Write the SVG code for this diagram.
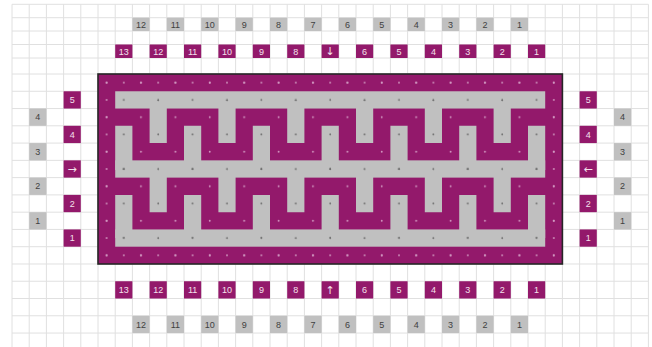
<svg xmlns="http://www.w3.org/2000/svg" xmlns:xlink="http://www.w3.org/1999/xlink" width="652" height="347" viewBox="0 0 652 347">
<style>
.grid{fill:none;stroke:#e0e0e0;stroke-width:1}
.gb{fill:#c0c0c0}
.pb{fill:#93196b}
text{font-family:"Liberation Sans","DejaVu Sans",sans-serif;font-size:9px;text-anchor:middle}
text.ar{font-family:"DejaVu Sans",sans-serif;font-size:11px}
.gt{fill:#3f3f3f}
.pt{fill:#f3e1ec}
</style>
<defs>
<pattern id="chkL" patternUnits="userSpaceOnUse" x="98" y="74" width="34.4" height="34.54"><circle cx="8.6" cy="8.635" r="0.9" fill="#d39cc3"/><circle cx="25.8" cy="25.905" r="0.9" fill="#d39cc3"/></pattern>
<pattern id="chkD" patternUnits="userSpaceOnUse" x="98" y="74" width="34.4" height="34.54"><circle cx="8.6" cy="8.635" r="0.9" fill="#6a6a6a"/><circle cx="25.8" cy="25.905" r="0.9" fill="#6a6a6a"/></pattern>
<pattern id="allL" patternUnits="userSpaceOnUse" x="98" y="74" width="17.2" height="17.27"><circle cx="8.6" cy="8.635" r="0.9" fill="#d39cc3"/></pattern>
<g id="mz">
<rect x="115.2" y="91.27" width="430" height="17.27"/>
<rect x="115.2" y="160.35" width="430" height="17.27"/>
<rect x="115.2" y="229.43" width="430" height="17.27"/>
<path d="M149.6 100h17.2v43.08h-17.2z M218.4 100h17.2v43.08h-17.2z M287.2 100h17.2v43.08h-17.2z M356 100h17.2v43.08h-17.2z M424.8 100h17.2v43.08h-17.2z M493.6 100h17.2v43.08h-17.2z"/>
<path d="M115.2 125.81h17.2v44.19h-17.2z M184 125.81h17.2v44.19h-17.2z M252.8 125.81h17.2v44.19h-17.2z M321.6 125.81h17.2v44.19h-17.2z M390.4 125.81h17.2v44.19h-17.2z M459.2 125.81h17.2v44.19h-17.2z M528 125.81h17.2v44.19h-17.2z"/>
<path d="M149.6 170h17.2v42.16h-17.2z M218.4 170h17.2v42.16h-17.2z M287.2 170h17.2v42.16h-17.2z M356 170h17.2v42.16h-17.2z M424.8 170h17.2v42.16h-17.2z M493.6 170h17.2v42.16h-17.2z"/>
<path d="M115.2 194.89h17.2v43.11h-17.2z M184 194.89h17.2v43.11h-17.2z M252.8 194.89h17.2v43.11h-17.2z M321.6 194.89h17.2v43.11h-17.2z M390.4 194.89h17.2v43.11h-17.2z M459.2 194.89h17.2v43.11h-17.2z M528 194.89h17.2v43.11h-17.2z"/>
</g>
</defs>
<rect width="652" height="347" fill="#ffffff"/>
<g id="gridlines">
<path class="grid" d="M12 4.3V347M29.2 4.3V347M46.4 4.3V347M63.6 4.3V347M80.8 4.3V347M98 4.3V347M115.2 4.3V347M132.4 4.3V347M149.6 4.3V347M166.8 4.3V347M184 4.3V347M201.2 4.3V347M218.4 4.3V347M235.6 4.3V347M252.8 4.3V347M270 4.3V347M287.2 4.3V347M304.4 4.3V347M321.6 4.3V347M338.8 4.3V347M356 4.3V347M373.2 4.3V347M390.4 4.3V347M407.6 4.3V347M424.8 4.3V347M442 4.3V347M459.2 4.3V347M476.4 4.3V347M493.6 4.3V347M510.8 4.3V347M528 4.3V347M545.2 4.3V347M562.4 4.3V347M579.6 4.3V347M596.8 4.3V347M614 4.3V347M631.2 4.3V347M648.4 4.3V347"/>
<path class="grid" d="M12 4.3H648.4M12 17.7H648.4M12 31H648.4M12 44.5H648.4M12 58H648.4M12 74H648.4M12 91.27H648.4M12 108.54H648.4M12 125.81H648.4M12 143.08H648.4M12 160.35H648.4M12 177.62H648.4M12 194.89H648.4M12 212.16H648.4M12 229.43H648.4M12 246.7H648.4M12 263.97H648.4M12 281.24H648.4M12 298.51H648.4M12 315.78H648.4M12 333.05H648.4"/>
</g>
<g id="maze">
<rect x="98" y="74" width="464.4" height="190" fill="#93196b"/>
<rect x="98" y="74" width="464.4" height="190" fill="url(#chkL)"/>
<path d="M98 74H562.4V264H98z M115.2 91.27V246.73H545.2V91.27z" fill="url(#allL)" fill-rule="evenodd"/>
<use xlink:href="#mz" href="#mz" fill="#c0c0c0"/>
<use xlink:href="#mz" href="#mz" fill="url(#chkD)"/>
<rect x="98" y="74" width="464.4" height="190" fill="none" stroke="#262626" stroke-width="1.6"/>
</g>
<g id="top-gray">
<g id="tg12" transform="translate(132.4 17.7)"><rect class="gb" width="17.2" height="13.3"/><text class="gt" x="8.6" y="9.9">12</text></g>
<g id="tg11" transform="translate(166.8 17.7)"><rect class="gb" width="17.2" height="13.3"/><text class="gt" x="8.6" y="9.9">11</text></g>
<g id="tg10" transform="translate(201.2 17.7)"><rect class="gb" width="17.2" height="13.3"/><text class="gt" x="8.6" y="9.9">10</text></g>
<g id="tg9" transform="translate(235.6 17.7)"><rect class="gb" width="17.2" height="13.3"/><text class="gt" x="8.6" y="9.9">9</text></g>
<g id="tg8" transform="translate(270 17.7)"><rect class="gb" width="17.2" height="13.3"/><text class="gt" x="8.6" y="9.9">8</text></g>
<g id="tg7" transform="translate(304.4 17.7)"><rect class="gb" width="17.2" height="13.3"/><text class="gt" x="8.6" y="9.9">7</text></g>
<g id="tg6" transform="translate(338.8 17.7)"><rect class="gb" width="17.2" height="13.3"/><text class="gt" x="8.6" y="9.9">6</text></g>
<g id="tg5" transform="translate(373.2 17.7)"><rect class="gb" width="17.2" height="13.3"/><text class="gt" x="8.6" y="9.9">5</text></g>
<g id="tg4" transform="translate(407.6 17.7)"><rect class="gb" width="17.2" height="13.3"/><text class="gt" x="8.6" y="9.9">4</text></g>
<g id="tg3" transform="translate(442 17.7)"><rect class="gb" width="17.2" height="13.3"/><text class="gt" x="8.6" y="9.9">3</text></g>
<g id="tg2" transform="translate(476.4 17.7)"><rect class="gb" width="17.2" height="13.3"/><text class="gt" x="8.6" y="9.9">2</text></g>
<g id="tg1" transform="translate(510.8 17.7)"><rect class="gb" width="17.2" height="13.3"/><text class="gt" x="8.6" y="9.9">1</text></g>
</g>
<g id="top-purple">
<g id="tp13" transform="translate(115.2 44.5)"><rect class="pb" width="17.2" height="13.5"/><text class="pt" x="8.6" y="10">13</text></g>
<g id="tp12" transform="translate(149.6 44.5)"><rect class="pb" width="17.2" height="13.5"/><text class="pt" x="8.6" y="10">12</text></g>
<g id="tp11" transform="translate(184 44.5)"><rect class="pb" width="17.2" height="13.5"/><text class="pt" x="8.6" y="10">11</text></g>
<g id="tp10" transform="translate(218.4 44.5)"><rect class="pb" width="17.2" height="13.5"/><text class="pt" x="8.6" y="10">10</text></g>
<g id="tp9" transform="translate(252.8 44.5)"><rect class="pb" width="17.2" height="13.5"/><text class="pt" x="8.6" y="10">9</text></g>
<g id="tp8" transform="translate(287.2 44.5)"><rect class="pb" width="17.2" height="13.5"/><text class="pt" x="8.6" y="10">8</text></g>
<g id="tp-arrow" transform="translate(321.6 44.5)"><rect class="pb" width="17.2" height="13.5"/><text class="pt ar" x="8.6" y="10.8">↓</text></g>
<g id="tp6" transform="translate(356 44.5)"><rect class="pb" width="17.2" height="13.5"/><text class="pt" x="8.6" y="10">6</text></g>
<g id="tp5" transform="translate(390.4 44.5)"><rect class="pb" width="17.2" height="13.5"/><text class="pt" x="8.6" y="10">5</text></g>
<g id="tp4" transform="translate(424.8 44.5)"><rect class="pb" width="17.2" height="13.5"/><text class="pt" x="8.6" y="10">4</text></g>
<g id="tp3" transform="translate(459.2 44.5)"><rect class="pb" width="17.2" height="13.5"/><text class="pt" x="8.6" y="10">3</text></g>
<g id="tp2" transform="translate(493.6 44.5)"><rect class="pb" width="17.2" height="13.5"/><text class="pt" x="8.6" y="10">2</text></g>
<g id="tp1" transform="translate(528 44.5)"><rect class="pb" width="17.2" height="13.5"/><text class="pt" x="8.6" y="10">1</text></g>
</g>
<g id="bottom-purple">
<g id="bp13" transform="translate(115.2 281.24)"><rect class="pb" width="17.2" height="17.27"/><text class="pt" x="8.6" y="11.8">13</text></g>
<g id="bp12" transform="translate(149.6 281.24)"><rect class="pb" width="17.2" height="17.27"/><text class="pt" x="8.6" y="11.8">12</text></g>
<g id="bp11" transform="translate(184 281.24)"><rect class="pb" width="17.2" height="17.27"/><text class="pt" x="8.6" y="11.8">11</text></g>
<g id="bp10" transform="translate(218.4 281.24)"><rect class="pb" width="17.2" height="17.27"/><text class="pt" x="8.6" y="11.8">10</text></g>
<g id="bp9" transform="translate(252.8 281.24)"><rect class="pb" width="17.2" height="17.27"/><text class="pt" x="8.6" y="11.8">9</text></g>
<g id="bp8" transform="translate(287.2 281.24)"><rect class="pb" width="17.2" height="17.27"/><text class="pt" x="8.6" y="11.8">8</text></g>
<g id="bp-arrow" transform="translate(321.6 281.24)"><rect class="pb" width="17.2" height="17.27"/><text class="pt ar" x="8.6" y="12.6">↑</text></g>
<g id="bp6" transform="translate(356 281.24)"><rect class="pb" width="17.2" height="17.27"/><text class="pt" x="8.6" y="11.8">6</text></g>
<g id="bp5" transform="translate(390.4 281.24)"><rect class="pb" width="17.2" height="17.27"/><text class="pt" x="8.6" y="11.8">5</text></g>
<g id="bp4" transform="translate(424.8 281.24)"><rect class="pb" width="17.2" height="17.27"/><text class="pt" x="8.6" y="11.8">4</text></g>
<g id="bp3" transform="translate(459.2 281.24)"><rect class="pb" width="17.2" height="17.27"/><text class="pt" x="8.6" y="11.8">3</text></g>
<g id="bp2" transform="translate(493.6 281.24)"><rect class="pb" width="17.2" height="17.27"/><text class="pt" x="8.6" y="11.8">2</text></g>
<g id="bp1" transform="translate(528 281.24)"><rect class="pb" width="17.2" height="17.27"/><text class="pt" x="8.6" y="11.8">1</text></g>
</g>
<g id="bottom-gray">
<g id="bg12" transform="translate(132.4 315.78)"><rect class="gb" width="17.2" height="17.27"/><text class="gt" x="8.6" y="11.8">12</text></g>
<g id="bg11" transform="translate(166.8 315.78)"><rect class="gb" width="17.2" height="17.27"/><text class="gt" x="8.6" y="11.8">11</text></g>
<g id="bg10" transform="translate(201.2 315.78)"><rect class="gb" width="17.2" height="17.27"/><text class="gt" x="8.6" y="11.8">10</text></g>
<g id="bg9" transform="translate(235.6 315.78)"><rect class="gb" width="17.2" height="17.27"/><text class="gt" x="8.6" y="11.8">9</text></g>
<g id="bg8" transform="translate(270 315.78)"><rect class="gb" width="17.2" height="17.27"/><text class="gt" x="8.6" y="11.8">8</text></g>
<g id="bg7" transform="translate(304.4 315.78)"><rect class="gb" width="17.2" height="17.27"/><text class="gt" x="8.6" y="11.8">7</text></g>
<g id="bg6" transform="translate(338.8 315.78)"><rect class="gb" width="17.2" height="17.27"/><text class="gt" x="8.6" y="11.8">6</text></g>
<g id="bg5" transform="translate(373.2 315.78)"><rect class="gb" width="17.2" height="17.27"/><text class="gt" x="8.6" y="11.8">5</text></g>
<g id="bg4" transform="translate(407.6 315.78)"><rect class="gb" width="17.2" height="17.27"/><text class="gt" x="8.6" y="11.8">4</text></g>
<g id="bg3" transform="translate(442 315.78)"><rect class="gb" width="17.2" height="17.27"/><text class="gt" x="8.6" y="11.8">3</text></g>
<g id="bg2" transform="translate(476.4 315.78)"><rect class="gb" width="17.2" height="17.27"/><text class="gt" x="8.6" y="11.8">2</text></g>
<g id="bg1" transform="translate(510.8 315.78)"><rect class="gb" width="17.2" height="17.27"/><text class="gt" x="8.6" y="11.8">1</text></g>
</g>
<g id="left-labels">
<g id="lp5" transform="translate(63.6 91.27)"><rect class="pb" width="17.2" height="17.27"/><text class="pt" x="8.6" y="11.8">5</text></g>
<g id="lg4" transform="translate(29.2 108.54)"><rect class="gb" width="17.2" height="17.27"/><text class="gt" x="8.6" y="11.8">4</text></g>
<g id="lp4" transform="translate(63.6 125.81)"><rect class="pb" width="17.2" height="17.27"/><text class="pt" x="8.6" y="11.8">4</text></g>
<g id="lg3" transform="translate(29.2 143.08)"><rect class="gb" width="17.2" height="17.27"/><text class="gt" x="8.6" y="11.8">3</text></g>
<g id="lp-arrow" transform="translate(63.6 160.35)"><rect class="pb" width="17.2" height="17.27"/><text class="pt ar" x="8.6" y="12.4">→</text></g>
<g id="lg2" transform="translate(29.2 177.62)"><rect class="gb" width="17.2" height="17.27"/><text class="gt" x="8.6" y="11.8">2</text></g>
<g id="lp2" transform="translate(63.6 194.89)"><rect class="pb" width="17.2" height="17.27"/><text class="pt" x="8.6" y="11.8">2</text></g>
<g id="lg1" transform="translate(29.2 212.16)"><rect class="gb" width="17.2" height="17.27"/><text class="gt" x="8.6" y="11.8">1</text></g>
<g id="lp1" transform="translate(63.6 229.43)"><rect class="pb" width="17.2" height="17.27"/><text class="pt" x="8.6" y="11.8">1</text></g>
</g>
<g id="right-labels">
<g id="rp5" transform="translate(579.6 91.27)"><rect class="pb" width="17.2" height="17.27"/><text class="pt" x="8.6" y="11.8">5</text></g>
<g id="rg4" transform="translate(614 108.54)"><rect class="gb" width="17.2" height="17.27"/><text class="gt" x="8.6" y="11.8">4</text></g>
<g id="rp4" transform="translate(579.6 125.81)"><rect class="pb" width="17.2" height="17.27"/><text class="pt" x="8.6" y="11.8">4</text></g>
<g id="rg3" transform="translate(614 143.08)"><rect class="gb" width="17.2" height="17.27"/><text class="gt" x="8.6" y="11.8">3</text></g>
<g id="rp-arrow" transform="translate(579.6 160.35)"><rect class="pb" width="17.2" height="17.27"/><text class="pt ar" x="8.6" y="12.4">←</text></g>
<g id="rg2" transform="translate(614 177.62)"><rect class="gb" width="17.2" height="17.27"/><text class="gt" x="8.6" y="11.8">2</text></g>
<g id="rp2" transform="translate(579.6 194.89)"><rect class="pb" width="17.2" height="17.27"/><text class="pt" x="8.6" y="11.8">2</text></g>
<g id="rg1" transform="translate(614 212.16)"><rect class="gb" width="17.2" height="17.27"/><text class="gt" x="8.6" y="11.8">1</text></g>
<g id="rp1" transform="translate(579.6 229.43)"><rect class="pb" width="17.2" height="17.27"/><text class="pt" x="8.6" y="11.8">1</text></g>
</g>
</svg>
